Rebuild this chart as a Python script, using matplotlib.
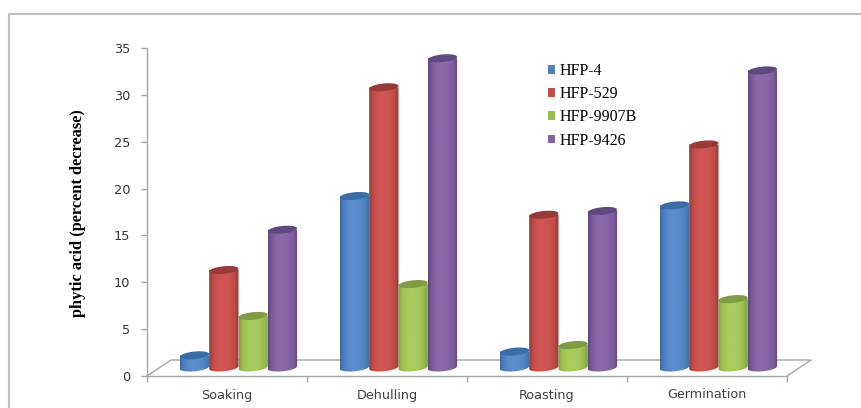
import numpy as np
import matplotlib
matplotlib.use("Agg")
import matplotlib.pyplot as plt
from matplotlib.colors import LinearSegmentedColormap
from matplotlib.lines import Line2D
from matplotlib.patches import Patch, Polygon
from matplotlib.path import Path

categories = ["Soaking", "Dehulling", "Roasting", "Germination"]
series_names = ["HFP-4", "HFP-529", "HFP-9907B", "HFP-9426"]
hfp_4 = [1.3, 18.3, 1.7, 17.3]
hfp_529 = [10.4, 29.9, 16.3, 23.8]
hfp_9907b = [5.5, 8.9, 2.4, 7.3]
hfp_9426 = [14.7, 33.0, 16.7, 31.7]
y_ticks = [0, 5, 10, 15, 20, 25, 30, 35]

# edge, light, top cap, legend colour for each series
shades = [("#3a6ba3", "#5b8ccd", "#3b6ca6", "#4f81bd"),
          ("#933a37", "#d05552", "#973a38", "#c0504d"),
          ("#809e40", "#a9cc5c", "#7e9c44", "#9bbb59"),
          ("#60487c", "#8c68ab", "#5f4a7f", "#8064a2")]

W, H = 862, 408
LEFT, RIGHT, BOTTOM, TOP = 147, 787, 376, 48
PX_X = 4 / (RIGHT - LEFT)
PX_Y = 35 / (BOTTOM - TOP)
BAR_W = 29.3 * PX_X
GROUP_SHIFT = 11.5 * PX_X
FLOOR_LIFT = 8.5 * PX_Y
CAP_H = 3.8 * PX_Y
CAP_TILT = 1.4 * PX_Y
GREY = "#a6a6a6"


def arc(cx, cy, start, stop):
    t = np.linspace(start, stop, 40)
    x = cx + BAR_W / 2 * np.cos(t)
    y = cy + CAP_H * np.sin(t) + CAP_TILT * np.cos(t)
    return np.column_stack([x, y])


fig = plt.figure(figsize=(W / 100, H / 100), dpi=100)
ax = fig.add_axes([LEFT / W, 1 - BOTTOM / H, (RIGHT - LEFT) / W, (BOTTOM - TOP) / H])

# outer frame
fig.add_artist(Line2D([9 / W, 9 / W, 1], [0, 1 - 14 / H, 1 - 14 / H], color="#bfbfbf", lw=1.5))

# floor of the 3d box
floor_x = [0, 24 * PX_X, 4 + 24 * PX_X, 4]
floor_y = [0, 16 * PX_Y, 16 * PX_Y, 0]
ax.plot(floor_x, floor_y, color=GREY, lw=1, clip_on=False, zorder=1)

data = [hfp_4, hfp_529, hfp_9907b, hfp_9426]
# brightness across a bar, dark only near the edges
profile = [0, 0.65, 0.9, 1, 1, 0.95, 0.85, 0.6, 0]
gradient = np.interp(np.linspace(0, 8, 60), np.arange(9), profile).reshape(1, -1)

z = 2
for c in range(len(categories)):
    for s, values in enumerate(data):
        edge, light, cap, _ = shades[s]
        cmap = LinearSegmentedColormap.from_list("c", [edge, light])
        x0 = c + 0.5 + GROUP_SHIFT + (s - 1.5) * BAR_W
        top = values[c] + FLOOR_LIFT
        x_left = x0 - BAR_W / 2
        x_right = x0 + BAR_W / 2
        bars = ax.bar(x0, values[c], BAR_W, bottom=FLOOR_LIFT, color=light, zorder=z)
        outline = np.vstack([[[x_left, top], [x_right, top]], arc(x0, FLOOR_LIFT, 0, -np.pi)])
        im = ax.imshow(gradient, cmap=cmap, vmin=0, vmax=1, aspect="auto", interpolation="bilinear",
                       extent=[x_left, x_right, FLOOR_LIFT - CAP_H - CAP_TILT, top], zorder=z + 1)
        im.set_clip_path(Path(outline), ax.transData)
        bars[0].set_visible(False)
        ax.add_patch(Polygon(arc(x0, top, 0, 2 * np.pi), closed=True, facecolor=cap, edgecolor="none", zorder=z + 2))
        z += 3

ax.set_xlim(0, 4)
ax.set_ylim(0, 35)
ax.patch.set_visible(False)
for side in ["top", "right"]:
    ax.spines[side].set_visible(False)
for side in ["left", "bottom"]:
    ax.spines[side].set_color(GREY)
    ax.spines[side].set_linewidth(1)
    ax.spines[side].set_zorder(1)

ax.set_yticks(y_ticks)
ax.tick_params(axis="y", length=4, width=1, color=GREY, pad=8, labelsize=9.3, labelcolor="#333333")
ax.set_xticks(range(5))
ax.set_xticklabels([])
ax.tick_params(axis="x", which="major", length=4, width=1, color=GREY)
ax.set_xticks(np.arange(len(categories)) + 0.5, minor=True)
ax.set_xticklabels(categories, minor=True)
ax.tick_params(axis="x", which="minor", length=0, pad=9, labelsize=9.2, labelcolor="#404040")

fig.text(78 / W, 1 - 213 / H, "phytic acid (percent decrease)", rotation=90, ha="center", va="center",
         family="Liberation Serif", weight="bold", fontsize=11.8, color="black")

handles = [Patch(facecolor=shades[i][3], label=series_names[i]) for i in range(4)]
ax.legend(handles=handles, loc="upper left", bbox_to_anchor=(548 / W, 1 - 63 / H),
          bbox_transform=fig.transFigure, frameon=False, borderpad=0, borderaxespad=0,
          handlelength=0.44, handleheight=0.44, handletextpad=0.27, labelspacing=0.45,
          prop={"family": "Liberation Serif", "size": 11.5}, labelcolor="black").set_zorder(100)

fig.savefig("out.png", dpi=100)
